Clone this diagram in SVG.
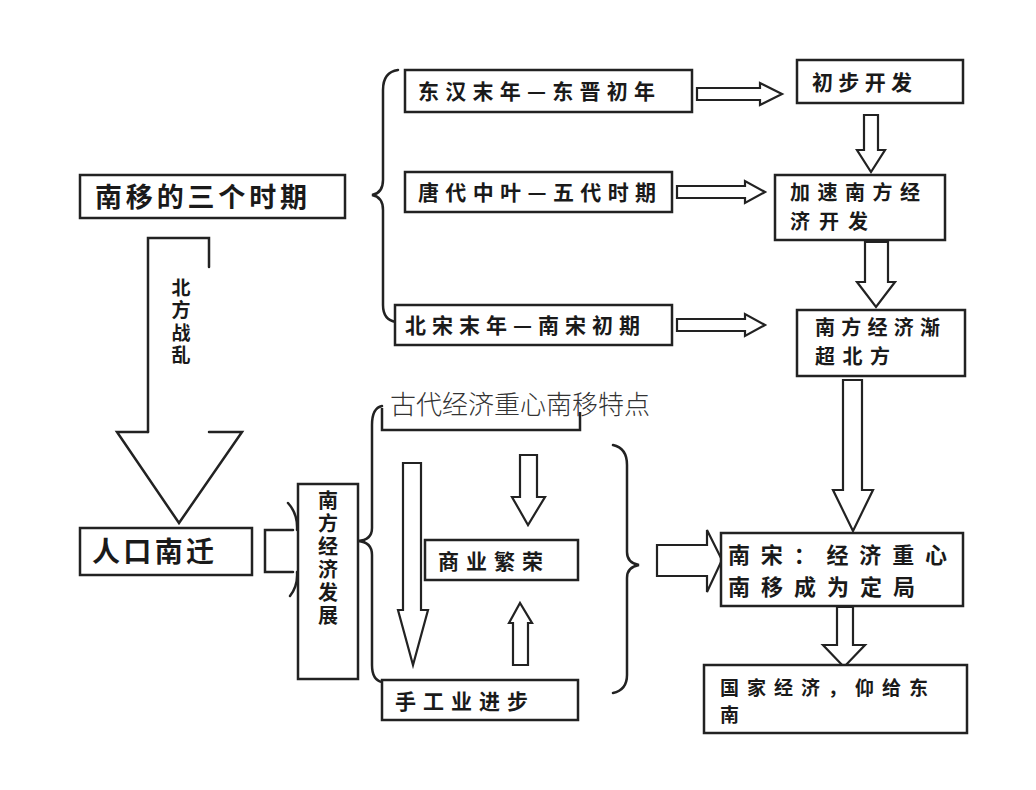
<svg xmlns="http://www.w3.org/2000/svg" width="1036" height="790" viewBox="0 0 1036 790">
<style>
.box{fill:#fff;stroke:#222;stroke-width:2.5}
.arr{fill:#fff;stroke:#222;stroke-width:2.2;stroke-linejoin:miter}
.ln{fill:none;stroke:#222;stroke-width:2.5;stroke-linecap:round}
.t{font-family:"Noto Sans CJK SC","Noto Sans CJK TC",sans-serif;font-weight:bold;fill:#1a1a1a}
.v{font-family:"Noto Sans CJK SC","Noto Sans CJK TC",sans-serif;font-weight:bold;fill:#1a1a1a;writing-mode:vertical-rl}
.title{font-family:"Noto Sans CJK SC","Noto Sans CJK TC",sans-serif;font-weight:300;fill:#333;font-size:26px}
</style>
<rect width="1036" height="790" fill="#fff"/>
<g id="connectors">
<path class="arr" d="M697,88 H760 V83 L782,94 L760,105 V100 H697 Z"/>
<path class="arr" d="M677,186 H745 V181 L765,192 L745,203 V198 H677 Z"/>
<path class="arr" d="M677,319 H745 V314 L765,325 L745,336 V331 H677 Z"/>
<path class="arr" d="M864,115 V150 H857 L871,172 L885,150 H878 V115 Z"/>
<path class="arr" d="M865,242 V282 H857 L876,307 L895,282 H888 V242 Z"/>
<path class="arr" d="M843,380 V490 H833 L853,531 L873,490 H862 V380 Z"/>
<path class="arr" d="M837,607 V645 H823 L844,667 L865,645 H853 V607 Z"/>
<path class="arr" d="M657,545 H707 V530 L722,560 L707,592 V576 H657 Z"/>
<path class="ln" d="M293,530 H265 V572 H293"/>
<path class="ln" d="M288,503 Q298,514 297,530 M297,572 Q298,586 290,596"/>
<path class="ln" d="M148,432 V238 H209 V267"/>
<path class="ln" d="M209,432 H242 L179,523 L117,432 H148"/>
<path class="arr" d="M403,463 V610 H398 L413,665 L428,610 H421 V463 Z"/>
<path class="arr" d="M520,455 V497 H512 L528,525 L545,497 H537 V455 Z"/>
<path class="arr" d="M513,665 V623 H509 L520,603 L532,623 H528 V665 Z"/>
<path class="ln" d="M398,70 Q383,72 383,90 V180 Q383,193 372,195 Q383,197 383,210 V305 Q383,320 396,322"/>
<path class="ln" d="M382,406 Q372,408 372,425 V528 Q372,540 358,541 Q372,542 372,555 V665 Q372,680 382,682"/>
<path class="ln" d="M613,445 Q627,448 627,465 V552 Q627,563 639,565 Q627,567 627,578 V675 Q627,690 613,693"/>
</g>
<g id="n-periods"><rect class="box" x="80" y="175" width="265" height="43"/><text class="t" x="95" y="207" font-size="27" textLength="212" lengthAdjust="spacing">南移的三个时期</text></g>
<g id="n-donghan"><rect class="box" x="405" y="70" width="287" height="42"/><text class="t" x="418" y="99" font-size="21" textLength="237" lengthAdjust="spacing">东汉末年—东晋初年</text></g>
<g id="n-chubu"><rect class="box" x="797" y="60" width="166" height="43"/><text class="t" x="812" y="90" font-size="21" textLength="100" lengthAdjust="spacing">初步开发</text></g>
<g id="n-tang"><rect class="box" x="405" y="172" width="267" height="40"/><text class="t" x="418" y="200" font-size="21" textLength="238" lengthAdjust="spacing">唐代中叶—五代时期</text></g>
<g id="n-jiasu"><rect class="box" x="775" y="175" width="170" height="65"/><text class="t" x="790" y="200" font-size="20" textLength="130" lengthAdjust="spacing">加速南方经</text><text class="t" x="790" y="229" font-size="20" textLength="78" lengthAdjust="spacing">济开发</text></g>
<g id="n-beisong"><rect class="box" x="395" y="305" width="277" height="40"/><text class="t" x="405" y="333" font-size="21" textLength="235" lengthAdjust="spacing">北宋末年—南宋初期</text></g>
<g id="n-jianchao"><rect class="box" x="797" y="310" width="168" height="66"/><text class="t" x="815" y="335" font-size="20" textLength="125" lengthAdjust="spacing">南方经济渐</text><text class="t" x="815" y="364" font-size="20" textLength="75" lengthAdjust="spacing">超北方</text></g>
<g id="n-zhanluan"><text class="v" x="181" y="278" font-size="19" letter-spacing="3.5">北方战乱</text></g>
<g id="n-renkou"><rect class="box" x="80" y="528" width="172" height="47"/><text class="t" x="92" y="562" font-size="28" textLength="122" lengthAdjust="spacing">人口南迁</text></g>
<g id="n-nanfang"><rect class="box" x="298" y="484" width="60" height="195"/><text class="v" x="328" y="490" font-size="20" letter-spacing="3">南方经济发展</text></g>
<g id="n-hidden"><path class="ln" style="stroke-linecap:butt" d="M382,408 V430 H580 V412"/></g>
<g id="n-shangye"><rect class="box" x="425" y="540" width="153" height="40"/><text class="t" x="438" y="569" font-size="21" textLength="105" lengthAdjust="spacing">商业繁荣</text></g>
<g id="n-shougong"><rect class="box" x="382" y="680" width="196" height="40"/><text class="t" x="395" y="709" font-size="21" textLength="133" lengthAdjust="spacing">手工业进步</text></g>
<g id="n-nansong"><rect class="box" x="721" y="533" width="242" height="73"/><text class="t" x="728" y="563" font-size="22" textLength="219" lengthAdjust="spacing">南宋：经济重心</text><text class="t" x="728" y="595" font-size="22" textLength="187" lengthAdjust="spacing">南移成为定局</text></g>
<g id="n-guojia"><rect class="box" x="704" y="665" width="263" height="68"/><text class="t" x="720" y="695" font-size="19" textLength="208" lengthAdjust="spacing">国家经济，仰给东</text><text class="t" x="720" y="722" font-size="19">南</text></g>
<g id="title"><text class="title" x="390" y="414">古代经济重心南移特点</text></g>
</svg>
